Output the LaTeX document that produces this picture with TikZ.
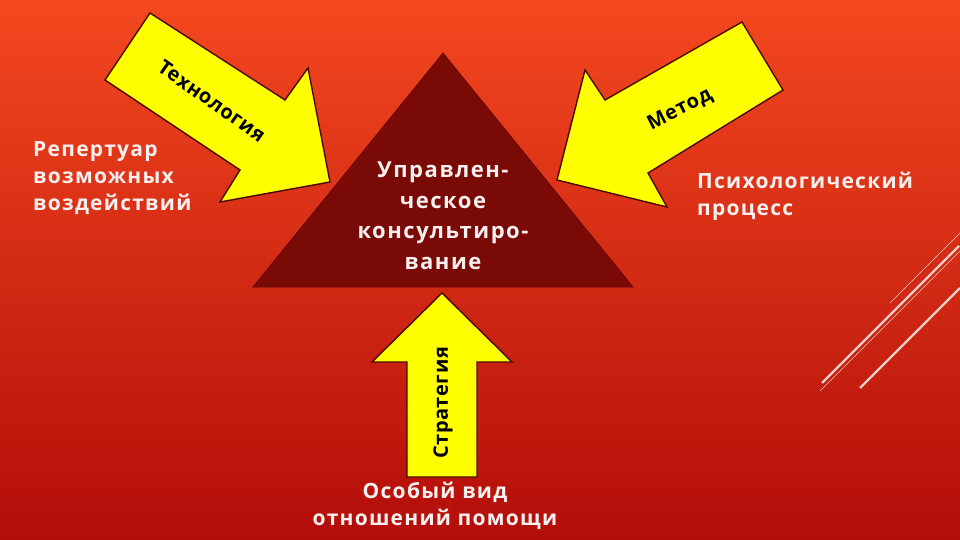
\documentclass[tikz,border=0pt]{standalone}
\usepackage{fontspec}
\setmainfont{Open Sans}
\newfontfamily\widefont[LetterSpace=6]{Open Sans}
\newfontfamily\trifont[LetterSpace=7]{Open Sans}
\newfontfamily\arrowfont[LetterSpace=3]{Open Sans}
\definecolor{bgtop}{HTML}{F4481F}
\definecolor{bgbot}{HTML}{B20D09}
\definecolor{trifill}{HTML}{7A0A05}
\definecolor{arrowyellow}{HTML}{FFFF00}
\definecolor{arrowedge}{HTML}{4A0800}
\definecolor{labelwhite}{HTML}{FAF0F0}
\definecolor{decoline}{HTML}{F7CFC8}
\begin{document}
\begin{tikzpicture}[x=1pt,y=-1pt,
  arrowshape/.style={fill=arrowyellow, draw=arrowedge, line width=1.4pt, line join=miter},
  trishape/.style={fill=trifill, draw=trifill!85!black, line width=0.8pt},
  lbl/.style={text=labelwhite, font=\widefont\fontsize{21}{27}\selectfont\bfseries, inner sep=0pt},
  trilbl/.style={text=labelwhite, font=\trifont\fontsize{22}{30.5}\selectfont\bfseries, inner sep=0pt},
  arrowlbl/.style={text=black, font=\arrowfont\fontsize{20}{24}\selectfont\bfseries, inner sep=0pt},
  thickdeco/.style={draw=decoline, line width=2.2pt},
  thindeco/.style={draw=decoline, line width=0.6pt}]
\useasboundingbox (0,0) rectangle (960,540);
\shade[top color=bgtop, bottom color=bgbot] (0,0) rectangle (960,540);

% decorative lines
\draw[thickdeco] (822,383) -- (959,246);
\draw[thindeco] (820,391) -- (960,251);
\draw[thindeco] (890,303) -- (960,233);
\draw[thickdeco] (860,388) -- (960,288);

% central triangle
\draw[trishape] (443,53) -- (633,287) -- (253,287) -- cycle;

% arrows
\draw[arrowshape] (150,13) -- (285,100) -- (308,68) -- (330,182) -- (220,202) -- (240,170) -- (105,80) -- cycle;
\draw[arrowshape] (742,22) -- (783,90) -- (648,173) -- (667,207) -- (557,180) -- (585,70) -- (605,100) -- cycle;
\draw[arrowshape] (442,293) -- (512,362) -- (477,362) -- (477,477) -- (407,477) -- (407,362) -- (372,362) -- cycle;

% arrow labels
\node[arrowlbl, rotate=-35] (tech) at (212,101) {Технология};
\node[arrowlbl, rotate=27] (method) at (680,110) {Метод};
\node[arrowlbl, rotate=90] (strat) at (443,403) {Стратегия};

% text labels
\node[trilbl, align=center, anchor=north] (center) at (443,162) {Управлен-\\ческое\\консультиро-\\вание};
\node[lbl, align=left, anchor=north west] (rep) at (33,141) {Репертуар\\возможных\\воздействий};
\node[lbl, align=left, anchor=north west] (psy) at (697,172) {Психологический\\процесс};
\node[lbl, align=center, anchor=north] (rel) at (435,482) {Особый вид\\отношений помощи};
\end{tikzpicture}
\end{document}
